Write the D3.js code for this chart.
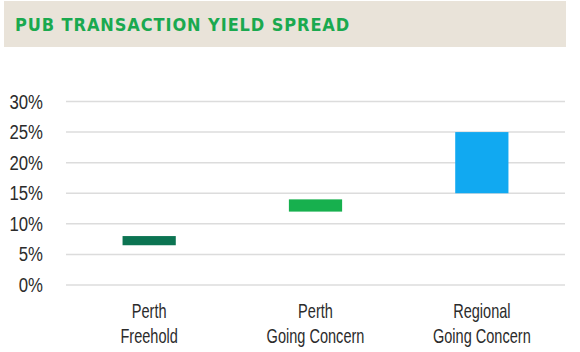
<!DOCTYPE html>
<html>
<head>
<meta charset="utf-8">
<script src="https://cdn.jsdelivr.net/npm/d3@7"></script>
<style>
  body { margin: 0; background: #fff; }
  svg { display: block; }
</style>
</head>
<body>
<div id="chart"></div>
<script>
// data
const categories = [["Perth", "Freehold"], ["Perth", "Going Concern"], ["Regional", "Going Concern"]];
const lowValues = [6.5, 12, 15];
const highValues = [8, 14, 25];
const barColors = ["#0c7452", "#17b04e", "#11a9f1"];
const yTicks = [0, 5, 10, 15, 20, 25, 30];

const W = 580, H = 352;
const margin = {top: 101.5, right: 15, bottom: 67, left: 66};
const width = W - margin.left - margin.right;
const height = H - margin.top - margin.bottom;
const labelFont = "'Liberation Sans', Arial, sans-serif";

const svg = d3.select("#chart").append("svg")
    .attr("width", W)
    .attr("height", H);

// header box
svg.append("rect")
    .attr("x", 4).attr("y", 1)
    .attr("width", 562).attr("height", 46)
    .attr("fill", "#e9e3d9");

svg.append("text")
    .attr("x", 15).attr("y", 31)
    .attr("font-family", "'DejaVu Sans', sans-serif")
    .attr("font-weight", "bold")
    .attr("font-size", "18px")
    .attr("font-stretch", "condensed")
    .attr("letter-spacing", "0.9px")
    .attr("fill", "#1aa94f")
    .text("PUB TRANSACTION YIELD SPREAD");

const g = svg.append("g")
    .attr("transform", `translate(${margin.left},${margin.top})`);

const x = d3.scaleBand()
    .domain(d3.range(categories.length))
    .range([0, width])
    .paddingInner(0.68)
    .paddingOuter(0.34);

const y = d3.scaleLinear()
    .domain([0, 30])
    .range([height, 0]);

// gridlines
g.selectAll("line.grid")
    .data(yTicks)
    .join("line")
    .attr("class", "grid")
    .attr("x1", 0).attr("x2", width)
    .attr("y1", d => y(d)).attr("y2", d => y(d))
    .attr("stroke", "#dcdcdc")
    .attr("stroke-width", 1.5);

// y tick labels (narrowed by a horizontal scale)
g.selectAll("text.ytick")
    .data(yTicks)
    .join("text")
    .attr("class", "ytick")
    .attr("text-anchor", "end")
    .attr("dy", "0.36em")
    .attr("font-family", labelFont)
    .attr("font-size", "19.5px")
    .attr("fill", "#2b2b2b")
    .attr("transform", d => `translate(-23,${y(d)}) scale(0.86,1)`)
    .text(d => d + "%");

// bars
g.selectAll("rect.bar")
    .data(categories)
    .join("rect")
    .attr("class", "bar")
    .attr("x", (d, i) => x(i))
    .attr("width", x.bandwidth())
    .attr("y", (d, i) => y(highValues[i]))
    .attr("height", (d, i) => y(lowValues[i]) - y(highValues[i]))
    .attr("fill", (d, i) => barColors[i]);

// category labels
const labels = g.selectAll("text.cat")
    .data(categories)
    .join("text")
    .attr("class", "cat")
    .attr("text-anchor", "middle")
    .attr("font-family", labelFont)
    .attr("font-size", "20.5px")
    .attr("fill", "#2b2b2b")
    .attr("transform", (d, i) => `translate(${x(i) + x.bandwidth() / 2},${height + 33}) scale(0.71,1)`);

labels.selectAll("tspan")
    .data(d => d)
    .join("tspan")
    .attr("x", 0)
    .attr("dy", (d, j) => j === 0 ? 0 : 25)
    .text(d => d);
</script>
</body>
</html>
